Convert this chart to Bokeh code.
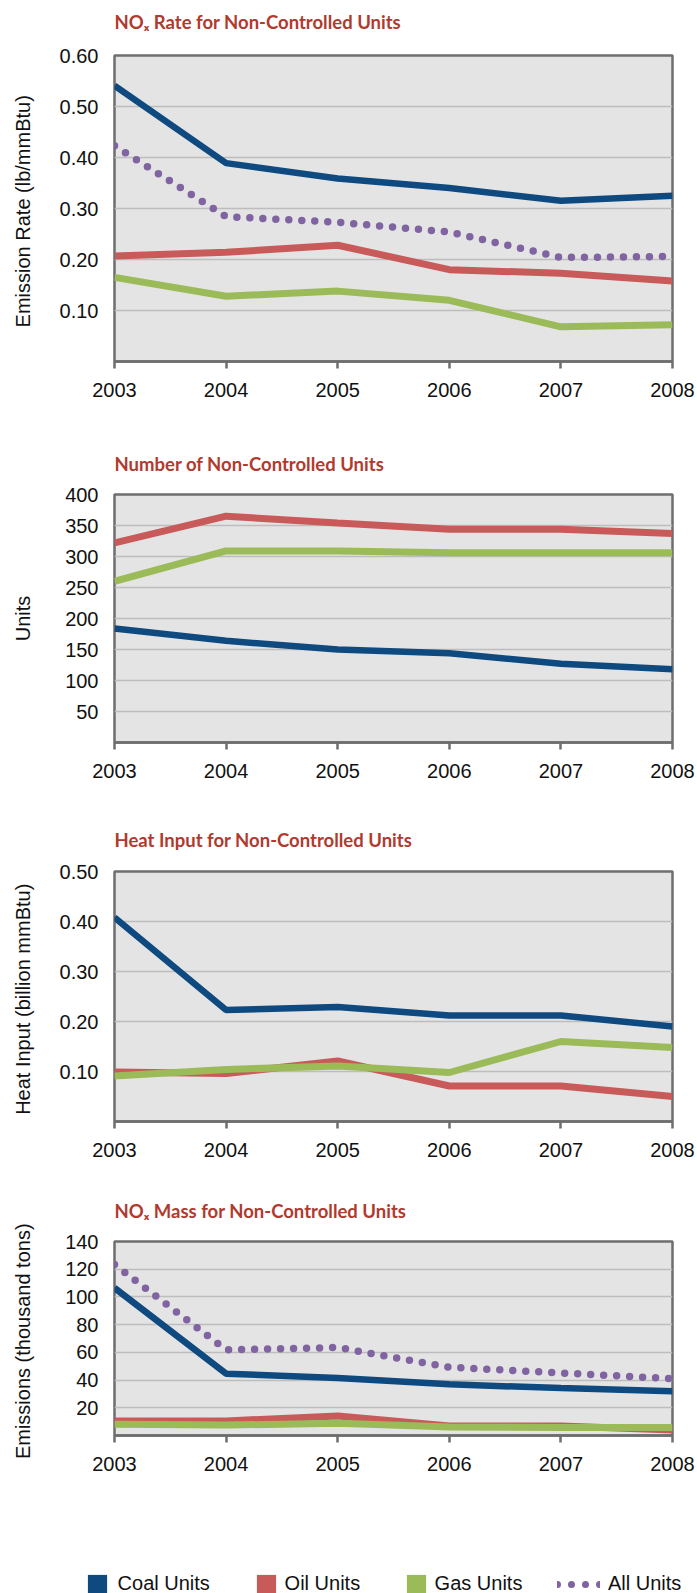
from bokeh.plotting import figure
from bokeh.models import Range1d, FixedTicker, NumeralTickFormatter, Legend, LegendItem, Title
from bokeh.layouts import column
from bokeh.embed import file_html
from bokeh.resources import INLINE

years = [2003, 2004, 2005, 2006, 2007, 2008]

rate_coal = [0.541, 0.389, 0.359, 0.340, 0.315, 0.325]
rate_oil = [0.207, 0.214, 0.228, 0.180, 0.173, 0.158]
rate_gas = [0.165, 0.128, 0.138, 0.120, 0.068, 0.072]
rate_all = [0.423, 0.284, 0.273, 0.254, 0.204, 0.206]

units_coal = [184, 164, 150, 144, 127, 118]
units_oil = [322, 365, 354, 344, 344, 337]
units_gas = [260, 309, 309, 306, 306, 306]

heat_coal = [0.408, 0.223, 0.229, 0.212, 0.212, 0.190]
heat_oil = [0.099, 0.096, 0.121, 0.071, 0.071, 0.050]
heat_gas = [0.091, 0.104, 0.111, 0.098, 0.160, 0.148]

mass_coal = [106.5, 44.6, 41.5, 36.9, 34.2, 32.0]
mass_oil = [10.5, 10.5, 14.1, 6.9, 6.9, 4.0]
mass_gas = [8.2, 7.5, 8.8, 6.1, 5.7, 5.7]
mass_all = [123.4, 61.8, 63.5, 49.3, 45.1, 41.0]

rate_ticks = [0.1, 0.2, 0.3, 0.4, 0.5, 0.6]
units_ticks = [50, 100, 150, 200, 250, 300, 350, 400]
heat_ticks = [0.1, 0.2, 0.3, 0.4, 0.5]
mass_ticks = [20, 40, 60, 80, 100, 120, 140]

series_names = ["Coal Units", "Oil Units", "Gas Units", "All Units"]

COAL = "#0E4A80"
OIL = "#C95A5A"
GAS = "#9BBB59"
ALL = "#8064A2"
TITLE_C = "#B03A2E"
FRAME = "#6E6E6E"
GRID = "#BDBDBD"
BG = "#E4E4E4"
FONT = "Liberation Sans"
TITLE_FONT = "Lato"
W = 697
LEFT = 114
RIGHT = 25


def make_panel(title, ylabel, ymax, yticks, fmt, coal, oil, gas, allu,
               height, top, bottom, ylab_standoff, title_gap):
    p = figure(width=W, height=height, output_backend="svg", toolbar_location=None,
               x_range=Range1d(2003, 2008), y_range=Range1d(0, ymax),
               min_border_left=LEFT, min_border_right=RIGHT,
               min_border_top=top, min_border_bottom=bottom,
               background_fill_color=BG, border_fill_color="white")
    p.outline_line_color = FRAME
    p.outline_line_width = 2.5

    # spacer between frame and title
    p.add_layout(Title(text=" ", text_font_size="1px", standoff=title_gap), "above")

    p.title.text = title
    p.title.text_font = TITLE_FONT
    p.title.text_font_style = "bold"
    p.title.text_font_size = "18.5px"
    p.title.text_color = TITLE_C
    p.title.align = "left"
    p.title.offset = 0
    p.title.standoff = 0

    p.xgrid.visible = False
    p.ygrid.ticker = FixedTicker(ticks=yticks)
    p.ygrid.grid_line_color = GRID
    p.ygrid.grid_line_width = 1.5

    ya = p.yaxis[0]
    ya.ticker = FixedTicker(ticks=yticks)
    ya.formatter = NumeralTickFormatter(format=fmt)
    ya.major_tick_out = 0
    ya.major_tick_in = 0
    ya.minor_tick_out = 0
    ya.minor_tick_in = 0
    ya.axis_line_color = None
    ya.major_label_standoff = 16
    ya.major_label_text_font = FONT
    ya.major_label_text_font_size = "20px"
    ya.major_label_text_color = "#111111"
    ya.axis_label = ylabel
    ya.axis_label_text_font = FONT
    ya.axis_label_text_font_style = "normal"
    ya.axis_label_text_font_size = "20px"
    ya.axis_label_text_color = "#111111"
    ya.axis_label_standoff = ylab_standoff

    xa = p.xaxis[0]
    xa.ticker = FixedTicker(ticks=years)
    xa.axis_line_color = FRAME
    xa.axis_line_width = 2.5
    xa.major_tick_out = 7
    xa.major_tick_in = 0
    xa.major_tick_line_color = FRAME
    xa.major_tick_line_width = 2.5
    xa.minor_tick_out = 0
    xa.minor_tick_in = 0
    xa.major_label_standoff = 14
    xa.major_label_text_font = FONT
    xa.major_label_text_font_size = "20px"
    xa.major_label_text_color = "#111111"

    p.line(years, oil, line_color=OIL, line_width=7)
    p.line(years, gas, line_color=GAS, line_width=7)
    p.line(years, coal, line_color=COAL, line_width=6.5)
    if allu is not None:
        p.line(years, allu, line_color=ALL, line_width=7.5, line_dash="0 13",
               line_cap="round")
    return p


p1 = make_panel("NO\u2093 Rate for Non-Controlled Units", "Emission Rate  (lb/mmBtu)",
                0.6, rate_ticks, "0.00", rate_coal, rate_oil, rate_gas, rate_all,
                420, 55, 59, 23, 20)
p2 = make_panel("Number of Non-Controlled Units", "Units",
                400, units_ticks, "0", units_coal, units_oil, units_gas, None,
                380, 74, 58, 28, 17)
p3 = make_panel("Heat Input for Non-Controlled Units", "Heat Input  (billion mmBtu)",
                0.5, heat_ticks, "0.00", heat_coal, heat_oil, heat_gas, None,
                380, 71, 59, 23, 18)
p4 = make_panel("NO\u2093 Mass for Non-Controlled Units", "Emissions  (thousand tons)",
                140, mass_ticks, "0", mass_coal, mass_oil, mass_gas, mass_all,
                368, 61, 113, 28, 17)

# legend strip (legend renderers hold the series data but lie outside the view)
lg = figure(width=W, height=45, output_backend="svg", toolbar_location=None,
            x_range=Range1d(0, 1), y_range=Range1d(0, 1),
            min_border_left=0, min_border_right=0,
            min_border_top=0, min_border_bottom=0, outline_line_color=None)
lg.axis.visible = False
lg.grid.visible = False
r_coal = lg.quad(left=years, right=years, top=mass_coal, bottom=mass_coal,
                 fill_color=COAL, line_color=None)
r_oil = lg.quad(left=years, right=years, top=mass_oil, bottom=mass_oil,
                fill_color=OIL, line_color=None)
r_gas = lg.quad(left=years, right=years, top=mass_gas, bottom=mass_gas,
                fill_color=GAS, line_color=None)
r_all = lg.line(years, mass_all, line_color=ALL, line_width=7, line_dash="0 14",
                line_cap="round")

specs = [
    (series_names[0], r_coal, 84.6, 24, 9),
    (series_names[1], r_oil, 253.6, 24, 7),
    (series_names[2], r_gas, 403.6, 24, 7),
    (series_names[3], r_all, 557, 43, 8),
]
for name, r, x, gw, st in specs:
    leg = Legend(items=[LegendItem(label=name, renderers=[r])],
                 location=(x, -2.5), orientation="horizontal",
                 glyph_width=gw, glyph_height=24, label_standoff=st,
                 padding=0, margin=0, spacing=0,
                 background_fill_alpha=0, border_line_alpha=0,
                 label_text_font=FONT, label_text_font_size="20px",
                 label_text_color="#111111")
    lg.add_layout(leg, "center")

layout = column(column(p1, p2, p3, p4, spacing=0), lg, spacing=0)

open("out.html", "w").write(file_html(layout, INLINE))
